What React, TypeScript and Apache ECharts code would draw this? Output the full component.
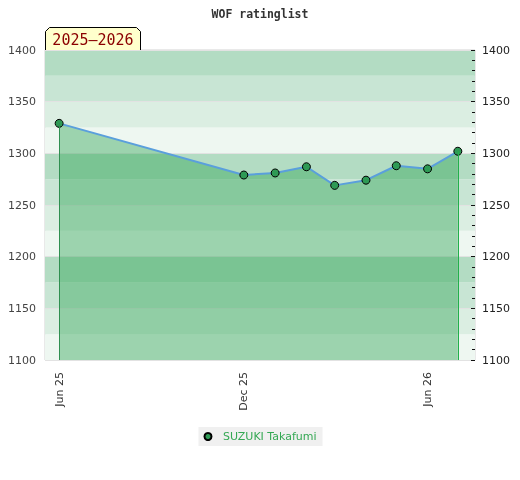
import React, { useEffect, useRef } from "react";
import * as echarts from "echarts";

const TITLE = "WOF ratinglist";
const SEASON = "2025–2026";
const PLAYER = "SUZUKI Takafumi";
const DATES = ["2025-06-01", "2025-12-01", "2026-01-01", "2026-02-01", "2026-03-01", "2026-04-01", "2026-05-01", "2026-06-01", "2026-07-01"];
const RATINGS = [1329, 1279, 1281, 1287, 1269, 1274, 1288, 1285, 1302];
const X_TICKS = ["2025-06-01", "2025-12-01", "2026-06-01"];
const X_RANGE = ["2025-05-18", "2026-07-18"];
const Y_MIN = 1100;
const Y_MAX = 1400;
const MONTHS = ["Jan", "Feb", "Mar", "Apr", "May", "Jun", "Jul", "Aug", "Sep", "Oct", "Nov", "Dec"];
const BAND_COLORS = ["#eef7f1", "#dbeee2", "#c8e5d4", "#b3dcc3"];

function ts(s: string): number {
  const [y, m, d] = s.split("-").map(Number);
  return new Date(y, m - 1, d).getTime();
}

export default function App() {
  const ref = useRef<HTMLDivElement>(null);
  useEffect(() => {
    if (!ref.current) return;
    const chart = echarts.init(ref.current, undefined, { renderer: "svg" });
    const data = DATES.map((d, i) => [ts(d), RATINGS[i]]);
    const first = data[0];
    const last = data[data.length - 1];
    const yBase = {
      type: "value" as const,
      min: Y_MIN,
      max: Y_MAX,
    };
    const plain = (v: number) => String(v);
    chart.setOption({
      animation: false,
      title: {
        text: TITLE,
        left: "center",
        top: 3,
        textStyle: { fontFamily: "DejaVu Sans Mono", fontWeight: "bold", fontSize: 11.5, color: "#333" },
      },
      grid: { left: 45, right: 45, top: 50, bottom: 120, show: true, borderColor: "#d3d3d3", borderWidth: 1, backgroundColor: "transparent" },
      legend: {
        data: [PLAYER],
        left: "center",
        top: 427,
        backgroundColor: "#f0f0f0",
        padding: [4, 6, 4, 5],
        itemWidth: 20,
        itemHeight: 7,
        icon: "circle",
        textStyle: { color: "#34a853", fontSize: 11, fontFamily: "DejaVu Sans", lineHeight: 11 },
      },
      xAxis: {
        type: "value",
        min: ts(X_RANGE[0]),
        max: ts(X_RANGE[1]),
        axisLine: { show: false },
        axisTick: { show: false },
        splitLine: { show: false },
        axisLabel: {
          customValues: X_TICKS.map(ts),
          rotate: 90,
          margin: 12,
          fontSize: 11,
          fontFamily: "DejaVu Sans",
          color: "#333",
          formatter: (v: number) => {
            const d = new Date(v);
            return MONTHS[d.getMonth()] + " " + String(d.getFullYear()).slice(2);
          },
        },
      },
      yAxis: [
        {
          ...yBase,
          interval: 25,
          position: "left",
          axisLine: { show: false },
          axisTick: { show: false },
          axisLabel: { show: false },
          splitLine: { show: false },
          splitArea: { show: true, areaStyle: { color: BAND_COLORS } },
        },
        {
          ...yBase,
          interval: 50,
          position: "left",
          axisLine: { show: false },
          axisTick: { show: false },
          axisLabel: { fontSize: 11, fontFamily: "DejaVu Sans", color: "#444", margin: 9, formatter: plain },
          splitLine: { show: true, lineStyle: { color: "#e2e2e2", width: 1 } },
        },
        {
          ...yBase,
          interval: 50,
          position: "right",
          axisLine: { show: false },
          axisTick: { show: true, inside: true, length: 4, lineStyle: { color: "#111" } },
          minorTick: { show: true, splitNumber: 5, length: 3, lineStyle: { color: "#111" } },
          axisLabel: { fontSize: 11, fontFamily: "DejaVu Sans", color: "#222", margin: 7, formatter: plain },
          splitLine: { show: false },
        },
      ],
      series: [
        {
          name: PLAYER,
          type: "line",
          yAxisIndex: 1,
          data,
          symbol: "circle",
          symbolSize: 8,
          itemStyle: { color: "#2e9a55", borderColor: "#000", borderWidth: 1 },
          lineStyle: { color: "#5a9fdc", width: 2 },
          areaStyle: { color: "rgb(42,162,80)", opacity: 0.42, origin: "start" },
          markLine: {
            silent: true,
            symbol: "none",
            label: { show: false },
            data: [
              [
                { coord: [first[0], first[1]], lineStyle: { color: "#2f8f50", width: 1, type: "solid" } },
                { coord: [first[0], Y_MIN] },
              ],
              [
                { coord: [last[0], last[1]], lineStyle: { color: "#22b04b", width: 1, type: "solid" } },
                { coord: [last[0], Y_MIN] },
              ],
            ],
          },
          z: 3,
        },
      ],
      graphic: [
        {
          type: "group",
          children: [
            {
              type: "polygon",
              shape: { points: [[45.5, 51], [45.5, 31.5], [49.5, 27.5], [136.5, 27.5], [140.5, 31.5], [140.5, 51]] },
              style: { fill: "#ffffcc", stroke: "#000", lineWidth: 1 },
            },
            {
              type: "text",
              x: 93,
              y: 40,
              style: { text: SEASON, fill: "#8b0000", font: "15px 'DejaVu Sans Mono'", align: "center", verticalAlign: "middle" },
            },
          ],
        },
      ],
    });
    return () => chart.dispose();
  }, []);
  return <div ref={ref} style={{ position: "fixed", left: 0, top: 0, width: 520, height: 480 }} />;
}
